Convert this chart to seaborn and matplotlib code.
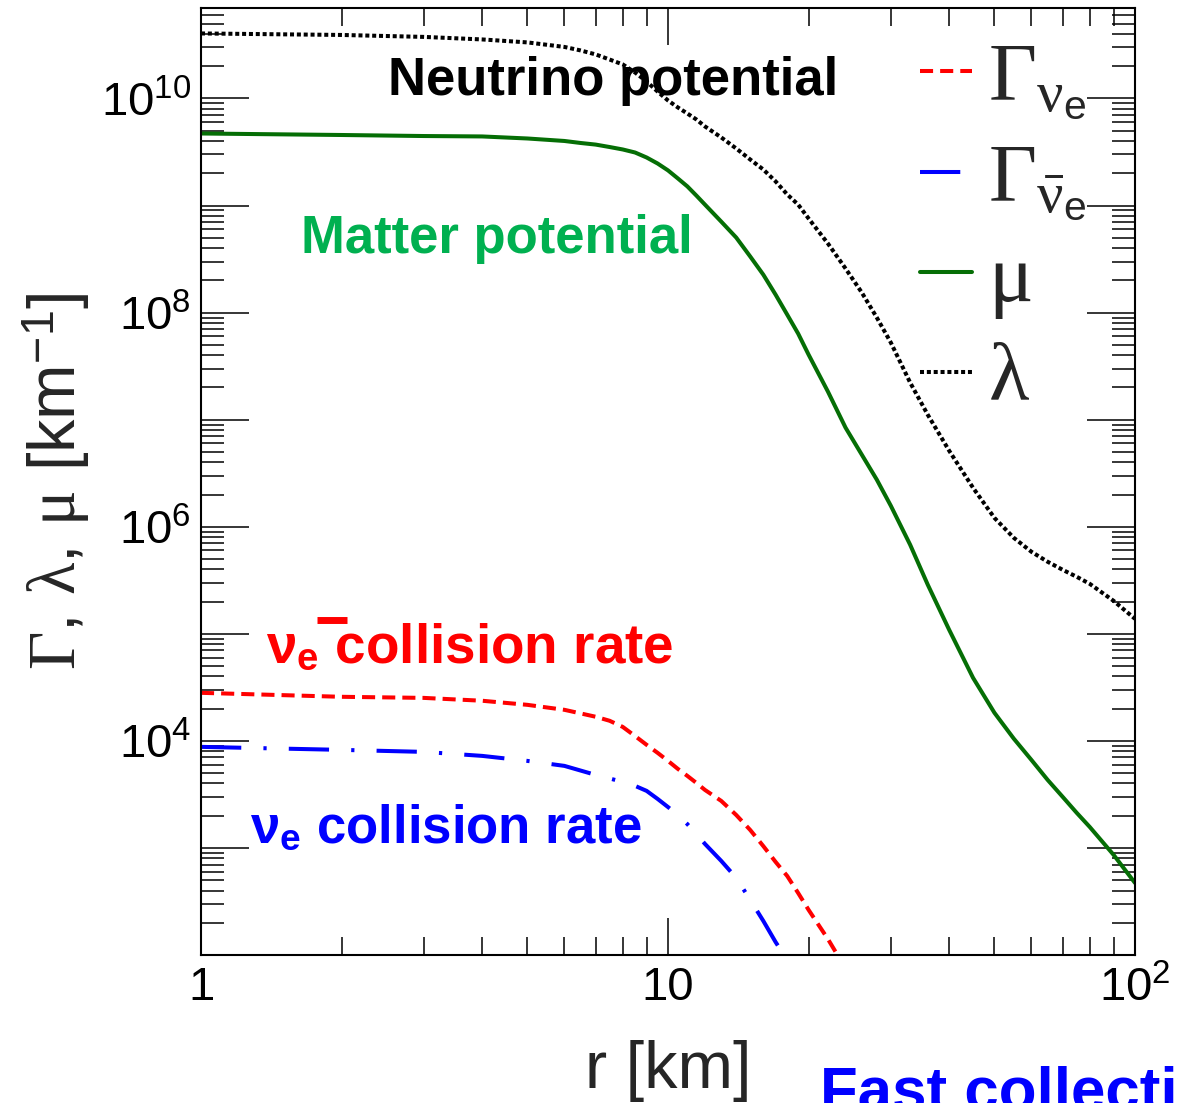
import numpy as np
import pandas as pd
import matplotlib
matplotlib.use("Agg")
import matplotlib.pyplot as plt
import seaborn as sns
from matplotlib.ticker import FixedLocator, FixedFormatter, LogLocator, NullFormatter
from matplotlib.lines import Line2D

# ---------------- data ----------------
r_km = [1, 2, 3, 4, 5, 6, 6.5, 7, 7.5, 8, 8.5, 9, 9.5, 10, 10.5, 11, 11.5, 12, 13,
        14, 15, 16, 17, 18, 19, 20, 22, 24, 26, 28, 30, 33, 36, 40, 45, 50, 55,
        60, 65, 70, 75, 80, 90, 100]
mu = [4.71e9, 4.56e9, 4.46e9, 4.42e9, 4.23e9, 4.01e9, 3.84e9, 3.71e9, 3.52e9,
      3.34e9, 3.13e9, 2.81e9, 2.47e9, 2.13e9, 1.79e9, 1.51e9, 1.24e9, 1.02e9,
      7.08e8, 5.02e8, 3.34e8, 2.26e8, 1.47e8, 9.57e7, 6.36e7, 4.05e7, 1.83e7,
      8.42e6, 4.71e6, 2.75e6, 1.57e6, 6.79e5, 2.87e5, 1.09e5, 3.88e4, 1.83e4,
      1.05e4, 6.64e3, 4.32e3, 3.00e3, 2.13e3, 1.57e3, 8.61e2, 4.71e2]
lam = [4.05e10, 3.92e10, 3.76e10, 3.56e10, 3.34e10, 3.03e10, 2.81e10, 2.58e10,
       2.31e10, 2.08e10, 1.75e10, 1.44e10, 1.16e10, 9.58e9, 8.24e9, 7.24e9,
       6.37e9, 5.48e9, 4.33e9, 3.41e9, 2.69e9, 2.17e9, 1.68e9, 1.27e9, 1.02e9,
       7.57e8, 4.42e8, 2.58e8, 1.54e8, 8.98e7, 5.25e7, 2.22e7, 1.11e7, 5.13e6,
       2.31e6, 1.21e6, 7.89e5, 5.84e5, 4.71e5, 3.96e5, 3.41e5, 2.93e5, 2.03e5,
       1.38e5]
r_nue = [1, 2, 3, 4, 5, 6, 7, 7.5, 8, 8.5, 9, 9.5, 10, 10.5, 11, 11.5, 12, 13, 14,
         15, 16, 17, 18, 19, 20, 22, 23, 23.5]
gamma_nue = [2.81e4, 2.58e4, 2.52e4, 2.37e4, 2.17e4, 1.95e4, 1.68e4, 1.54e4,
             1.35e4, 1.11e4, 9.18e3, 7.73e3, 6.50e3, 5.47e3, 4.71e3, 4.05e3,
             3.48e3, 2.75e3, 2.03e3, 1.47e3, 1.04e3, 7.40e2, 5.47e2, 3.79e2,
             2.64e2, 1.41e2, 1.02e2, 89.8]
r_nuebar = [1, 2, 3, 4, 5, 6, 7, 8, 8.5, 9, 9.5, 10, 10.5, 11, 11.5, 12, 13, 14,
            15, 16, 17, 18]
gamma_nuebar = [8.79e3, 8.24e3, 7.89e3, 7.24e3, 6.50e3, 5.84e3, 4.81e3, 4.14e3,
                3.80e3, 3.41e3, 2.87e3, 2.41e3, 2.03e3, 1.67e3, 1.35e3, 1.09e3,
                7.57e2, 5.25e2, 3.27e2, 2.08e2, 1.32e2, 89.8]

x_ticks = [1, 10, 100]
x_ticklabels = ["1", "10", r"$\mathsf{10^{2}}$"]
y_ticks = [1e2, 1e3, 1e4, 1e5, 1e6, 1e7, 1e8, 1e9, 1e10]
y_ticklabels = ["", "", r"$\mathsf{10^{4}}$", "", r"$\mathsf{10^{6}}$", "",
                r"$\mathsf{10^{8}}$", "", r"$\mathsf{10^{10}}$"]

lab_nue = r"$\Gamma_{\nu_{\mathsf{e}}}$"
lab_nuebar = r"$\Gamma_{\bar{\nu}_{\mathsf{e}}}$"
lab_mu = r"$\mu$"
lab_lam = r"$\lambda$"

# ---------------- style ----------------
sns.set_theme(style="ticks")
plt.rcParams.update({
    "font.family": ["Liberation Sans", "DejaVu Sans"],
    "mathtext.fontset": "custom",
    "mathtext.rm": "Liberation Serif",
    "mathtext.it": "Liberation Serif:italic",
    "mathtext.bf": "Liberation Sans:bold",
    "mathtext.sf": "Liberation Sans",
    "mathtext.default": "rm",
    "axes.edgecolor": "black",
    "axes.linewidth": 1.5,
    "xtick.color": "black",
    "ytick.color": "black",
    "axes.facecolor": "white",
    "figure.facecolor": "white",
})

fig = plt.figure(figsize=(11.78, 11.03), dpi=100)
ax = fig.add_axes([201 / 1178, 1 - 955 / 1103, 934 / 1178, 947 / 1103])

lw = 2.9
sns.lineplot(x=r_nue, y=gamma_nue, ax=ax, color="#FF0000", lw=lw,
             linestyle=(0, (3.25, 1.75)), label=lab_nue, estimator=None, sort=False)
sns.lineplot(x=r_nuebar, y=gamma_nuebar, ax=ax, color="#0000FF", lw=lw,
             linestyle=(0, (10, 5.5, 0.8, 5.5)), label=lab_nuebar, estimator=None, sort=False)
sns.lineplot(x=r_km, y=mu, ax=ax, color="#056e05", lw=lw,
             linestyle="-", label=lab_mu, estimator=None, sort=False)
sns.lineplot(x=r_km, y=lam, ax=ax, color="black", lw=lw,
             linestyle=(0, (1, 0.7)), label=lab_lam, estimator=None, sort=False)

ax.set_xscale("log")
ax.set_yscale("log")
ax.set_xlim(1, 100)
ax.set_ylim(100, 7.0e10)

ax.xaxis.set_major_locator(FixedLocator(x_ticks))
ax.xaxis.set_major_formatter(FixedFormatter(x_ticklabels))
ax.xaxis.set_minor_locator(LogLocator(base=10, subs=np.arange(2, 10), numticks=20))
ax.xaxis.set_minor_formatter(NullFormatter())
ax.yaxis.set_major_locator(FixedLocator(y_ticks))
ax.yaxis.set_major_formatter(FixedFormatter(y_ticklabels))
ax.yaxis.set_minor_locator(LogLocator(base=10, subs=np.arange(2, 10), numticks=20))
ax.yaxis.set_minor_formatter(NullFormatter())

ax.tick_params(which="both", direction="in", top=True, right=True, width=1.1,
               labelsize=34, colors="black")
ax.tick_params(axis="x", which="major", length=26.6, pad=8)
ax.tick_params(axis="x", which="minor", length=13)
ax.tick_params(axis="y", which="major", length=34.6, pad=7)
ax.tick_params(axis="y", which="minor", length=16.6)
for s in ax.spines.values():
    s.set_visible(True)
    s.set_linewidth(1.5)
    s.set_color("black")

ax.set_xlabel("r [km]", fontsize=48)
ax.xaxis.set_label_coords(0.5, -0.090)
ax.set_ylabel(r"$\Gamma$, $\lambda$, $\mu$ [km$^{\mathsf{-1}}$]", fontsize=48)
ax.yaxis.set_label_coords(-0.117, 0.5)

# legend
handles, labels = ax.get_legend_handles_labels()
order = [lab_nue, lab_nuebar, lab_mu, lab_lam]
hmap = dict(zip(labels, handles))
leg = ax.legend([hmap[l] for l in order], order, loc="upper left",
                bbox_to_anchor=((920 - 201) / 934, (955 - 39) / 947),
                frameon=False, fontsize=60, handlelength=0.62, handletextpad=0.2,
                labelspacing=0.22, borderpad=0, borderaxespad=0)

# annotations
ax.text((388 - 201) / 934, (955 - 95) / 947, "Neutrino potential", transform=ax.transAxes,
        fontsize=38, fontweight="bold", color="black", ha="left", va="baseline")
ax.text((693 - 201) / 934, (955 - 253) / 947, "Matter potential", transform=ax.transAxes,
        fontsize=38, fontweight="bold", color="#00B050", ha="right", va="baseline")

# red label (nu_e-bar collision rate)
ax.text((266 - 201) / 934, (955 - 662) / 947, r"ν$_{\mathbf{e}}$ collision rate",
        transform=ax.transAxes, fontsize=39.5, fontweight="bold", color="#FF0000",
        ha="left", va="baseline")
ax.add_line(Line2D([(317 - 201) / 934, (347 - 201) / 934],
                   [(955 - 619.5) / 947, (955 - 619.5) / 947],
                   transform=ax.transAxes, color="#FF0000", lw=5,
                   solid_capstyle="butt", clip_on=False))

# blue label (nu_e collision rate)
ax.text((250 - 201) / 934, (955 - 843) / 947, r"ν$_{\mathbf{e}}$ collision rate",
        transform=ax.transAxes, fontsize=38, fontweight="bold", color="#0000FF",
        ha="left", va="baseline")

fig.text(820 / 1178, 1 - 1109 / 1103, "Fast collective", fontsize=44.6,
         fontweight="bold", color="#0000FF", ha="left", va="baseline")

fig.savefig("out.png", dpi=100)
